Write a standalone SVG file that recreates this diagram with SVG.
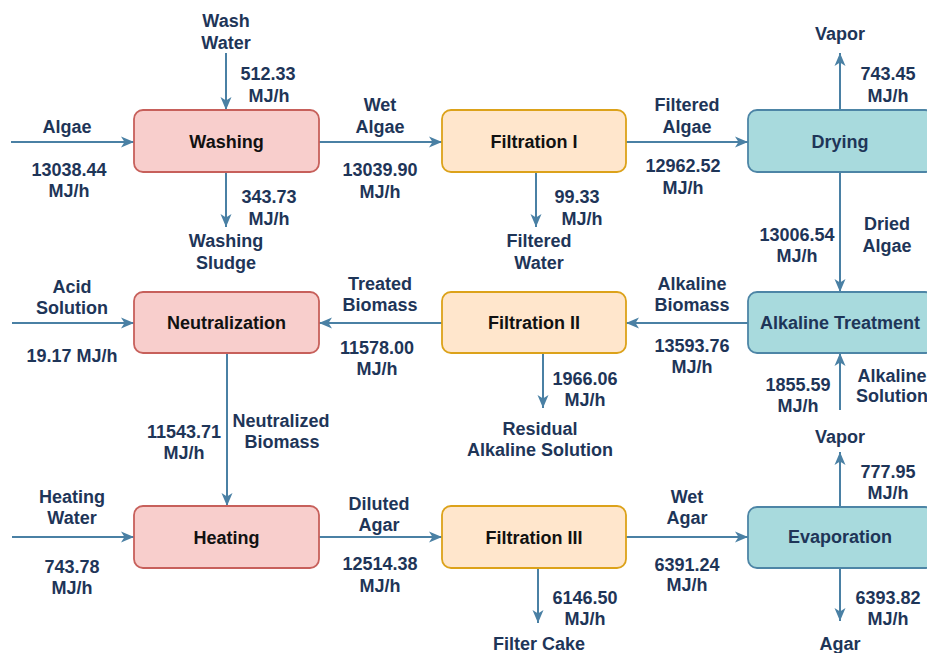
<svg xmlns="http://www.w3.org/2000/svg" width="927" height="653" viewBox="0 0 927 653">
<style>
.bg{fill:#ffffff}
.box{stroke-width:1.8}
.red{fill:#f8cecc;stroke:#c7605b}
.org{fill:#ffe6cc;stroke:#dca21a}
.teal{fill:#a8dadd;stroke:#4d85a6}
.nt{font-family:"Liberation Sans",Arial,sans-serif;font-weight:bold;font-size:18px;text-anchor:middle;dominant-baseline:central;fill:#111111}
.ntt{fill:#1e3558}
.lb{font-family:"Liberation Sans",Arial,sans-serif;font-weight:bold;font-size:18px;text-anchor:middle;fill:#1e3558}
.ar{stroke:#4a80a4;stroke-width:2;fill:none;marker-end:url(#ah)}
</style>
<defs>
<marker id="ah" markerUnits="userSpaceOnUse" markerWidth="14" markerHeight="12" refX="13" refY="6" orient="auto">
<path d="M0,0.5 L13,6 L0,11.5 L3.5,6 Z" fill="#4a80a4"/>
</marker>
</defs>
<rect class="bg" x="0" y="0" width="927" height="653"/>

<g id="connectors">
<line class="ar" x1="11" y1="142" x2="134" y2="142"/>
<line class="ar" x1="226" y1="53" x2="226" y2="110"/>
<line class="ar" x1="226" y1="172" x2="226" y2="227"/>
<line class="ar" x1="319" y1="142" x2="442" y2="142"/>
<line class="ar" x1="536" y1="172" x2="536" y2="227"/>
<line class="ar" x1="626" y1="142" x2="748" y2="142"/>
<line class="ar" x1="840" y1="110" x2="840" y2="53"/>
<line class="ar" x1="840" y1="172" x2="840" y2="292"/>
<line class="ar" x1="748" y1="323" x2="626" y2="323"/>
<line class="ar" x1="840" y1="410" x2="840" y2="353"/>
<line class="ar" x1="442" y1="323" x2="319" y2="323"/>
<line class="ar" x1="543" y1="353" x2="543" y2="408"/>
<line class="ar" x1="12" y1="323" x2="134" y2="323"/>
<line class="ar" x1="227" y1="353" x2="227" y2="506"/>
<line class="ar" x1="12" y1="537" x2="134" y2="537"/>
<line class="ar" x1="319" y1="537" x2="442" y2="537"/>
<line class="ar" x1="538" y1="568" x2="538" y2="623"/>
<line class="ar" x1="626" y1="537" x2="748" y2="537"/>
<line class="ar" x1="840" y1="507" x2="840" y2="452"/>
<line class="ar" x1="840" y1="568" x2="840" y2="621"/>
</g>

<g id="washing"><rect class="box red" x="134" y="110" width="185" height="62" rx="9"/><text class="nt" x="226.5" y="142">Washing</text></g>
<g id="filtration1"><rect class="box org" x="442" y="110" width="184" height="62" rx="9"/><text class="nt" x="534" y="142">Filtration I</text></g>
<g id="drying"><rect class="box teal" x="748" y="110" width="186" height="62" rx="9"/><text class="nt ntt" x="840" y="142">Drying</text></g>
<g id="neutralization"><rect class="box red" x="134" y="292" width="185" height="61" rx="9"/><text class="nt" x="226.5" y="323">Neutralization</text></g>
<g id="filtration2"><rect class="box org" x="442" y="292" width="184" height="61" rx="9"/><text class="nt" x="534" y="323">Filtration II</text></g>
<g id="alkaline"><rect class="box teal" x="748" y="292" width="186" height="61" rx="9"/><text class="nt ntt" x="840" y="323">Alkaline Treatment</text></g>
<g id="heating"><rect class="box red" x="134" y="506" width="185" height="62" rx="9"/><text class="nt" x="226.5" y="538">Heating</text></g>
<g id="filtration3"><rect class="box org" x="442" y="506" width="184" height="62" rx="9"/><text class="nt" x="534" y="538">Filtration III</text></g>
<g id="evaporation"><rect class="box teal" x="748" y="507" width="186" height="61" rx="9"/><text class="nt ntt" x="840" y="537">Evaporation</text></g>

<g id="labels">
<text class="lb" x="226" y="27">Wash</text>
<text class="lb" x="226" y="49">Water</text>
<text class="lb" x="268" y="80">512.33</text>
<text class="lb" x="269" y="102">MJ/h</text>
<text class="lb" x="67" y="133">Algae</text>
<text class="lb" x="69" y="176">13038.44</text>
<text class="lb" x="69" y="197">MJ/h</text>
<text class="lb" x="269" y="203">343.73</text>
<text class="lb" x="269" y="225">MJ/h</text>
<text class="lb" x="226" y="247">Washing</text>
<text class="lb" x="226" y="269">Sludge</text>

<text class="lb" x="380" y="111">Wet</text>
<text class="lb" x="380" y="133">Algae</text>
<text class="lb" x="380" y="176">13039.90</text>
<text class="lb" x="380" y="198">MJ/h</text>
<text class="lb" x="577" y="203">99.33</text>
<text class="lb" x="582" y="225">MJ/h</text>
<text class="lb" x="539" y="247">Filtered</text>
<text class="lb" x="539" y="269">Water</text>

<text class="lb" x="840" y="40">Vapor</text>
<text class="lb" x="888" y="80">743.45</text>
<text class="lb" x="888" y="102">MJ/h</text>
<text class="lb" x="687" y="111">Filtered</text>
<text class="lb" x="687" y="133">Algae</text>
<text class="lb" x="683" y="172">12962.52</text>
<text class="lb" x="683" y="194">MJ/h</text>
<text class="lb" x="797" y="241">13006.54</text>
<text class="lb" x="797" y="262">MJ/h</text>
<text class="lb" x="887" y="230">Dried</text>
<text class="lb" x="887" y="252">Algae</text>

<text class="lb" x="72" y="293">Acid</text>
<text class="lb" x="72" y="314">Solution</text>
<text class="lb" x="72" y="362">19.17 MJ/h</text>
<text class="lb" x="380" y="290">Treated</text>
<text class="lb" x="380" y="311">Biomass</text>
<text class="lb" x="377" y="354">11578.00</text>
<text class="lb" x="377" y="375">MJ/h</text>
<text class="lb" x="585" y="385">1966.06</text>
<text class="lb" x="585" y="406">MJ/h</text>
<text class="lb" x="540" y="435">Residual</text>
<text class="lb" x="540" y="456">Alkaline Solution</text>
<text class="lb" x="692" y="290">Alkaline</text>
<text class="lb" x="692" y="311">Biomass</text>
<text class="lb" x="692" y="352">13593.76</text>
<text class="lb" x="692" y="373">MJ/h</text>
<text class="lb" x="798" y="391">1855.59</text>
<text class="lb" x="798" y="412">MJ/h</text>
<text class="lb" x="892" y="382">Alkaline</text>
<text class="lb" x="892" y="402">Solution</text>

<text class="lb" x="184" y="438">11543.71</text>
<text class="lb" x="184" y="459">MJ/h</text>
<text class="lb" x="281" y="427">Neutralized</text>
<text class="lb" x="282" y="448">Biomass</text>

<text class="lb" x="840" y="443">Vapor</text>
<text class="lb" x="888" y="478">777.95</text>
<text class="lb" x="888" y="499">MJ/h</text>

<text class="lb" x="72" y="503">Heating</text>
<text class="lb" x="72" y="524">Water</text>
<text class="lb" x="72" y="573">743.78</text>
<text class="lb" x="72" y="594">MJ/h</text>
<text class="lb" x="379" y="510">Diluted</text>
<text class="lb" x="379" y="531">Agar</text>
<text class="lb" x="380" y="570">12514.38</text>
<text class="lb" x="380" y="592">MJ/h</text>
<text class="lb" x="585" y="604">6146.50</text>
<text class="lb" x="585" y="625">MJ/h</text>
<text class="lb" x="539" y="650">Filter Cake</text>
<text class="lb" x="687" y="503">Wet</text>
<text class="lb" x="687" y="524">Agar</text>
<text class="lb" x="687" y="571">6391.24</text>
<text class="lb" x="687" y="591">MJ/h</text>
<text class="lb" x="888" y="604">6393.82</text>
<text class="lb" x="888" y="625">MJ/h</text>
<text class="lb" x="840" y="650">Agar</text>
</g>
</svg>
